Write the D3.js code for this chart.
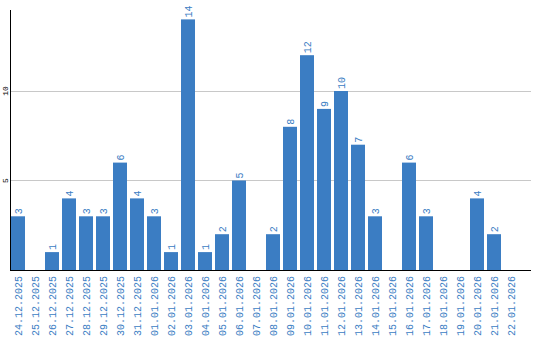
<!DOCTYPE html>
<html><head><meta charset="utf-8">
<script src="https://cdn.jsdelivr.net/npm/d3@7"></script>
<style>body{margin:0;background:#fff}svg{display:block}</style>
</head><body>
<svg id="c" width="540" height="340"></svg>
<script>
const categories = ["24.12.2025","25.12.2025","26.12.2025","27.12.2025","28.12.2025","29.12.2025","30.12.2025","31.12.2025","01.01.2026","02.01.2026","03.01.2026","04.01.2026","05.01.2026","06.01.2026","07.01.2026","08.01.2026","09.01.2026","10.01.2026","11.01.2026","12.01.2026","13.01.2026","14.01.2026","15.01.2026","16.01.2026","17.01.2026","18.01.2026","19.01.2026","20.01.2026","21.01.2026","22.01.2026"];
const values = [3,0,1,4,3,3,6,4,3,1,14,1,2,5,0,2,8,12,9,10,7,3,0,6,3,0,0,4,2,0];
const yTicks = [5,10];

(function(){
const svg = d3.select("#c");
const pL = 11, pR = 531, pT = 10, pB = 270;
const x = d3.scaleBand().domain(categories).range([pL, pL + 507]).paddingInner(3/17).paddingOuter(0);
const y = d3.scaleLinear().domain([0, 14.525]).range([pB, pT]);
const blue = "#3b7dc3";
const font = "'Liberation Mono', monospace";

svg.append("g").selectAll("line").data(yTicks).join("line")
  .attr("x1", pL).attr("x2", pR)
  .attr("y1", d => Math.round(y(d)) + 0.5).attr("y2", d => Math.round(y(d)) + 0.5)
  .attr("stroke", "#c8c8c8").attr("stroke-width", 1);

svg.append("g").selectAll("rect").data(values).join("rect")
  .attr("x", (d, i) => x(categories[i]))
  .attr("width", x.bandwidth())
  .attr("y", d => y(d))
  .attr("height", d => pB - y(d))
  .attr("fill", blue);

svg.append("g").selectAll("text").data(values.map((v, i) => ({v, c: categories[i]})).filter(d => d.v > 0)).join("text")
  .attr("transform", d => `translate(${x(d.c) + x.bandwidth()/2},${y(d.v) - 2}) rotate(-90)`)
  .attr("dy", "0.35em")
  .attr("text-anchor", "start")
  .attr("font-family", font).attr("font-size", "10px")
  .attr("fill", blue)
  .text(d => d.v);

svg.append("g").selectAll("text").data(categories).join("text")
  .attr("transform", d => `translate(${x(d) + x.bandwidth()/2},${pB + 6}) rotate(-90)`)
  .attr("dy", "0.35em")
  .attr("text-anchor", "end")
  .attr("font-family", font).attr("font-size", "10px")
  .attr("fill", blue)
  .text(d => d);

svg.append("g").selectAll("text").data(yTicks).join("text")
  .attr("transform", d => `translate(5,${y(d)}) rotate(-90)`)
  .attr("dy", "0.35em")
  .attr("text-anchor", "middle")
  .attr("font-family", font).attr("font-size", "8px")
  .attr("fill", "#000")
  .text(d => d);

svg.append("line").attr("x1", pL - 0.5).attr("x2", pL - 0.5).attr("y1", pT).attr("y2", pB + 1)
  .attr("stroke", "#000").attr("stroke-width", 1);
svg.append("line").attr("x1", pL - 1).attr("x2", pR).attr("y1", pB + 0.5).attr("y2", pB + 0.5)
  .attr("stroke", "#000").attr("stroke-width", 1);
})();
</script>
</body></html>
